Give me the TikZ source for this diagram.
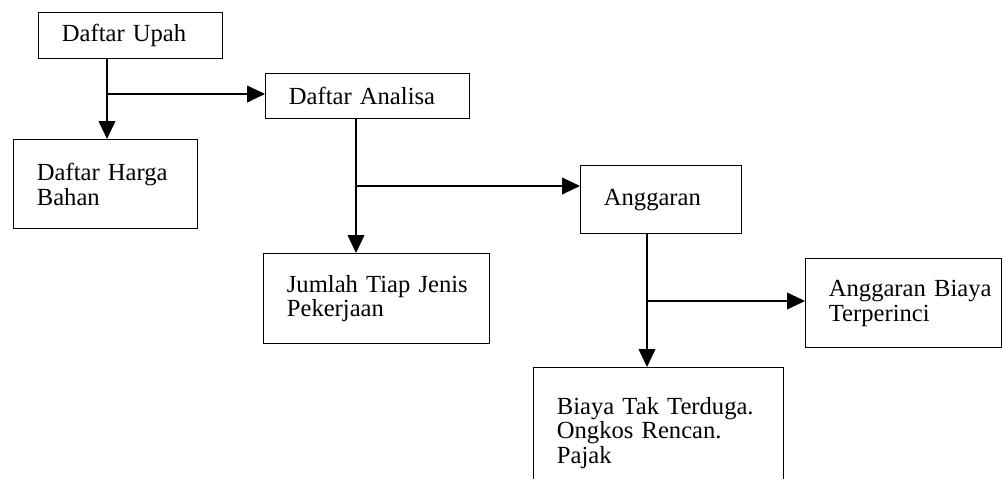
\documentclass[tikz,border=0pt]{standalone}
\usepackage{fontspec}
\setmainfont{Liberation Serif}
\usetikzlibrary{arrows.meta}

\tikzset{
  box/.style={draw, line width=1pt, anchor=north west, inner sep=0pt,
    text width=#1, align=left, font=\fontsize{17.5}{17.5}\selectfont,
    execute at begin node={\leftskip=0.58cm}},
  flow/.style={line width=1pt, -{Triangle[length=0.45cm,width=0.42cm]}}
}

\begin{document}
\begin{tikzpicture}
    \useasboundingbox (0,0) rectangle (25.075,-11.975);

    \node[box=4.6cm, minimum height=1.15cm] (upah) at (0.95,-0.3) {Daftar Upah};
    \node[box=4.6cm, minimum height=2.225cm] (harga) at (0.325,-3.475) {Daftar Harga\\Bahan};
    \node[box=5.1cm, minimum height=1.125cm] (analisa) at (6.625,-1.825) {Daftar Analisa};
    \node[box=4.025cm, minimum height=1.7cm] (anggaran) at (14.5,-4.125) {Anggaran};
    \node[box=5.65cm, minimum height=2.25cm] (jumlah) at (6.575,-6.325) {Jumlah Tiap Jenis\\Pekerjaan};
    \node[box=4.9cm, minimum height=2.225cm] (rinci) at (20.125,-6.45) {Anggaran Biaya\\Terperinci};
    \node[box=6.25cm, minimum height=3.25cm] (biaya) at (13.325,-9.175) {Biaya Tak Terduga.\\Ongkos Rencan.\\Pajak};

    \coordinate (jUpah) at (2.675,-2.35);
    \coordinate (jAnalisa) at (8.9,-4.65);
    \coordinate (jAnggaran) at (16.175,-7.525);

    \draw[flow] (upah.south -| jUpah) -- (harga.north -| jUpah);
    \draw[flow] (jUpah) -- (jUpah -| analisa.west);

    \draw[flow] (analisa.south -| jAnalisa) -- (jumlah.north -| jAnalisa);
    \draw[flow] (jAnalisa) -- (jAnalisa -| anggaran.west);

    \draw[flow] (anggaran.south -| jAnggaran) -- (biaya.north -| jAnggaran);
    \draw[flow] (jAnggaran) -- (jAnggaran -| rinci.west);
\end{tikzpicture}
\end{document}
